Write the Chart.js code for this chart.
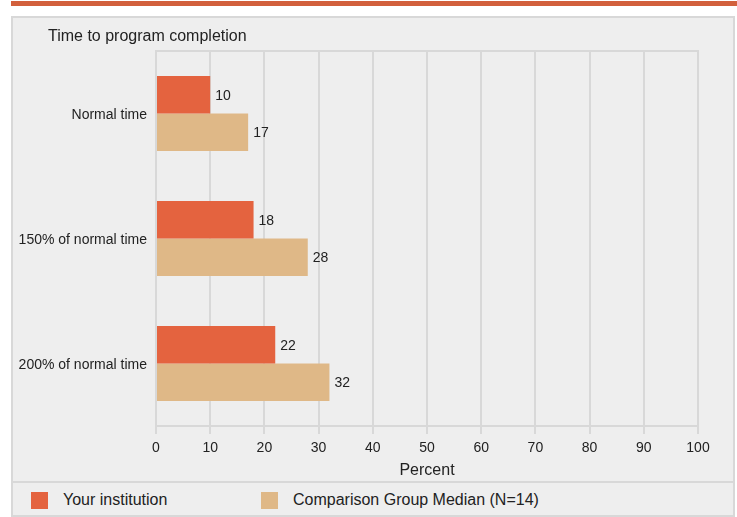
<!DOCTYPE html>
<html>
<head>
<meta charset="utf-8">
<script src="https://cdn.jsdelivr.net/npm/chart.js@4.4.0/dist/chart.umd.min.js"></script>
<style>
  html, body { margin: 0; padding: 0; background: #ffffff; }
  body { width: 737px; height: 517px; position: relative; overflow: hidden; font-family: "Liberation Sans", Arial, sans-serif; }
  #topline { position: absolute; left: 11px; top: 1px; width: 726px; height: 5px; background: #d2603c; }
  #panel { position: absolute; left: 11px; top: 16px; width: 724px; height: 501px; box-sizing: border-box; border: 2px solid #d8d8d8; background: #eeeeee; }
  #chart { position: absolute; left: 0; top: 0; }
  #title { position: absolute; left: 35px; top: 9px; font-size: 16px; line-height: 18px; color: #222; white-space: nowrap; }
  #sep { position: absolute; left: 0; top: 463px; width: 720px; height: 2px; background: #d8d8d8; }
  #legend { position: absolute; left: 0; top: 465px; width: 720px; height: 34px; }
  .item { position: absolute; top: 0; height: 34px; display: flex; align-items: center; font-size: 16px; color: #222; }
  .box { width: 17px; height: 17px; margin-right: 15px; }
</style>
</head>
<body>
<div id="topline"></div>
<div id="panel">
  <canvas id="chart" width="720" height="463"></canvas>
  <div id="title">Time to program completion</div>
  <div id="sep"></div>
  <div id="legend"></div>
</div>
<script>
const categories = ["Normal time", "150% of normal time", "200% of normal time"];
const seriesNames = ["Your institution", "Comparison Group Median (N=14)"];
const yourInstitution = [10, 18, 22];
const comparisonMedian = [17, 28, 32];
const seriesColors = ["#e4633f", "#dfb887"];
const xTicks = [0, 10, 20, 30, 40, 50, 60, 70, 80, 90, 100];

const valueLabels = {
  id: 'valueLabels',
  afterDatasetsDraw(chart) {
    const ctx = chart.ctx;
    ctx.save();
    ctx.font = '14px "Liberation Sans", Arial, sans-serif';
    ctx.fillStyle = '#222';
    ctx.textAlign = 'left';
    ctx.textBaseline = 'middle';
    chart.data.datasets.forEach((ds, i) => {
      chart.getDatasetMeta(i).data.forEach((bar, j) => {
        ctx.fillText(String(ds.data[j]), bar.x + 5, bar.y + 1);
      });
    });
    ctx.restore();
  }
};

const topFrame = {
  id: 'topFrame',
  beforeDatasetsDraw(chart) {
    const {ctx, chartArea} = chart;
    ctx.save();
    ctx.strokeStyle = '#d8d8d8';
    ctx.lineWidth = 2;
    ctx.beginPath();
    ctx.moveTo(chartArea.left - 1, chartArea.top);
    ctx.lineTo(chartArea.right + 1, chartArea.top);
    ctx.stroke();
    ctx.restore();
  }
};

new Chart(document.getElementById('chart'), {
  type: 'bar',
  data: {
    labels: categories,
    datasets: [
      { label: seriesNames[0], data: yourInstitution, backgroundColor: seriesColors[0], categoryPercentage: 0.6, barPercentage: 1.0 },
      { label: seriesNames[1], data: comparisonMedian, backgroundColor: seriesColors[1], categoryPercentage: 0.6, barPercentage: 1.0 }
    ]
  },
  options: {
    indexAxis: 'y',
    responsive: false,
    animation: false,
    devicePixelRatio: 1,
    layout: { padding: { left: 0, right: 35, top: 33, bottom: 0 } },
    plugins: {
      legend: { display: false },
      tooltip: { enabled: false },
      title: { display: false }
    },
    scales: {
      x: {
        type: 'linear',
        min: 0,
        max: 100,
        afterBuildTicks(scale) { scale.ticks = xTicks.map(v => ({ value: v })); },
        afterFit(scale) { scale.height = 55; },
        grid: { color: '#d8d8d8', lineWidth: 2, tickLength: 8, drawTicks: true },
        border: { display: true, color: '#d8d8d8', width: 2 },
        ticks: { color: '#222', padding: 6, font: { family: '"Liberation Sans", Arial, sans-serif', size: 14 } },
        title: { display: true, text: 'Percent', color: '#222', padding: { top: 0, bottom: 1 }, font: { family: '"Liberation Sans", Arial, sans-serif', size: 16 } }
      },
      y: {
        afterFit(scale) { scale.width = 143; },
        grid: { display: false, drawTicks: false },
        border: { display: true, color: '#d8d8d8', width: 2 },
        ticks: { color: '#222', padding: 9, labelOffset: 2, font: { family: '"Liberation Sans", Arial, sans-serif', size: 14 } }
      }
    }
  },
  plugins: [topFrame, valueLabels]
});

const legendEl = document.getElementById('legend');
const legendX = [18, 248];
seriesNames.forEach((name, i) => {
  const item = document.createElement('div');
  item.className = 'item';
  item.style.left = legendX[i] + 'px';
  const box = document.createElement('span');
  box.className = 'box';
  box.style.background = seriesColors[i];
  const txt = document.createElement('span');
  txt.textContent = name;
  item.appendChild(box);
  item.appendChild(txt);
  legendEl.appendChild(item);
});
</script>
</body>
</html>
